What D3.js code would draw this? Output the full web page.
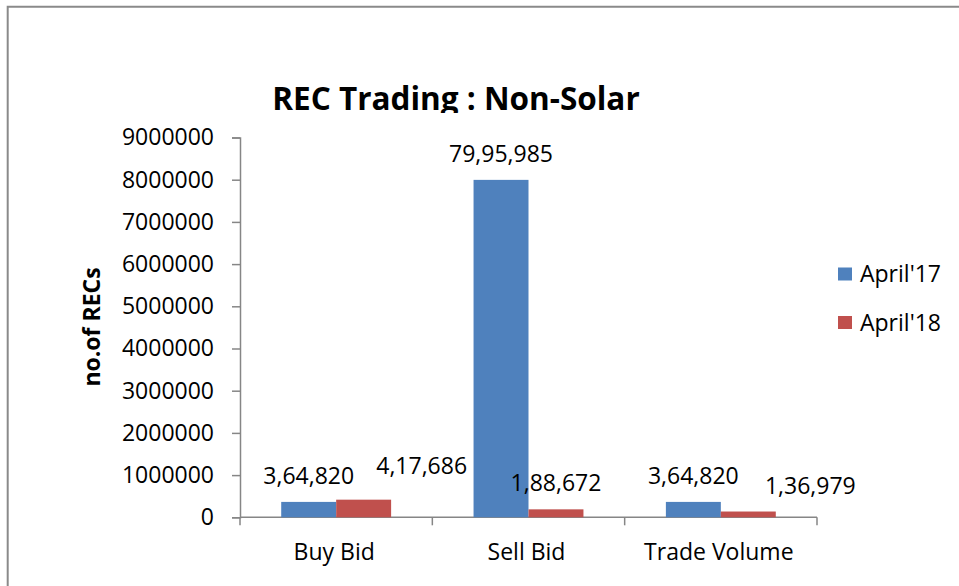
<!DOCTYPE html>
<html>
<head>
<meta charset="utf-8">
<script src="https://cdn.jsdelivr.net/npm/d3@7"></script>
<style>
  html, body { margin: 0; padding: 0; background: #fff; }
  svg { display: block; }
  text { font-family: "Open Sans", "Liberation Sans", sans-serif; fill: #000; }
</style>
</head>
<body>
<svg id="chart" width="959" height="586"></svg>
<script>
// ---- data ----
const categories = ["Buy Bid", "Sell Bid", "Trade Volume"];
const seriesNames = ["April'17", "April'18"];
const april17 = [364820, 7995985, 364820];
const april18 = [417686, 188672, 136979];
const yTicks = [0, 1000000, 2000000, 3000000, 4000000, 5000000, 6000000, 7000000, 8000000, 9000000];
const titleText = "REC Trading : Non-Solar";
const yTitle = "no.of RECs";

// ---- styling / layout ----
const colors = ["#4F81BD", "#C0504D"];
const axisColor = "#868686";
const plot = { left: 240, right: 817, top: 137.5, bottom: 517.3 };
// manual label nudges (as in the reference) keyed by series/category index
const labelNudge = { "1-0": [58, -8], "1-2": [62, 0] };

const svg = d3.select("#chart");

// Indian digit grouping: 79,95,985
function indianFormat(n) {
  const s = String(Math.round(n));
  if (s.length <= 3) return s;
  const last3 = s.slice(-3);
  let rest = s.slice(0, -3);
  const parts = [];
  while (rest.length > 2) { parts.unshift(rest.slice(-2)); rest = rest.slice(0, -2); }
  if (rest.length) parts.unshift(rest);
  return parts.join(",") + "," + last3;
}

// frame (left & top edges visible)
svg.append("path")
  .attr("d", "M7.7,586V6.7H959")
  .attr("fill", "none").attr("stroke", "#8a8a8a").attr("stroke-width", 2);

const x0 = d3.scaleBand().domain(categories).range([plot.left, plot.right]).paddingInner(0).paddingOuter(0);
const groupWidth = x0.bandwidth() * 2 / 3.5;
const x1 = d3.scaleBand().domain(d3.range(seriesNames.length))
  .range([(x0.bandwidth() - groupWidth) / 2, (x0.bandwidth() + groupWidth) / 2]);
const y = d3.scaleLinear().domain([0, 9000000]).range([plot.bottom, plot.top]);

// y axis
const yAxis = d3.axisLeft(y).tickValues(yTicks).tickFormat(d3.format("d")).tickSizeOuter(0).tickSize(8).tickPadding(18);
const gy = svg.append("g").attr("transform", `translate(${plot.left},0)`).call(yAxis);
gy.select(".domain").attr("stroke", axisColor).attr("stroke-width", 1.5);
gy.selectAll(".tick line").attr("stroke", axisColor).attr("stroke-width", 1.5);
gy.selectAll(".tick text").attr("font-size", 23).attr("font-family", "Open Sans").attr("fill", "#000");

// x axis with ticks at category boundaries
svg.append("line")
  .attr("x1", plot.left).attr("x2", plot.right).attr("y1", plot.bottom).attr("y2", plot.bottom)
  .attr("stroke", axisColor).attr("stroke-width", 1.5);
const boundaries = categories.map(c => x0(c)).concat([x0(categories[categories.length - 1]) + x0.bandwidth()]);
svg.selectAll(".xtick").data(boundaries).join("line")
  .attr("x1", d => d).attr("x2", d => d)
  .attr("y1", plot.bottom).attr("y2", plot.bottom + 8)
  .attr("stroke", axisColor).attr("stroke-width", 1.5);
svg.selectAll(".xlabel").data(categories).join("text")
  .attr("x", d => x0(d) + x0.bandwidth() / 2 - 2)
  .attr("y", 552).attr("dy", "0.35em")
  .attr("text-anchor", "middle").attr("font-size", 23)
  .text(d => d);

// bars
const series = [april17, april18];
series.forEach((vals, si) => {
  svg.append("g").selectAll("rect").data(vals).join("rect")
    .attr("x", (d, i) => x0(categories[i]) + x1(si))
    .attr("y", d => y(d))
    .attr("width", x1.bandwidth())
    .attr("height", d => y(0) - y(d))
    .attr("fill", colors[si]);
});

// data labels
series.forEach((vals, si) => {
  svg.append("g").selectAll("text").data(vals).join("text")
    .attr("x", (d, i) => x0(categories[i]) + x1(si) + x1.bandwidth() / 2 + ((labelNudge[si + "-" + i] || [0, 0])[0]))
    .attr("y", (d, i) => y(d) - 26 + ((labelNudge[si + "-" + i] || [0, 0])[1]))
    .attr("dy", "0.35em")
    .attr("text-anchor", "middle").attr("font-size", 23)
    .text(d => indianFormat(d));
});

// title (clipped at the bottom like the reference)
svg.append("clipPath").attr("id", "titleClip")
  .append("rect").attr("x", 0).attr("y", 0).attr("width", 959).attr("height", 113);
svg.append("text")
  .attr("clip-path", "url(#titleClip)")
  .attr("x", 456).attr("y", 110.3)
  .attr("text-anchor", "middle").attr("font-size", 31.5).attr("font-weight", "bold")
  .text(titleText);

// y axis title
svg.append("text")
  .attr("transform", "translate(100,327) rotate(-90)")
  .attr("text-anchor", "middle").attr("font-size", 23).attr("font-weight", "bold")
  .text(yTitle);

// legend
const legend = svg.append("g");
seriesNames.forEach((name, i) => {
  const ly = 274 + i * 48.5;
  legend.append("rect").attr("x", 838).attr("y", ly - 6.5).attr("width", 14).attr("height", 13).attr("fill", colors[i]);
  legend.append("text").attr("x", 860).attr("y", ly).attr("dy", "0.35em").attr("font-size", 23).text(name);
});
</script>
</body>
</html>
